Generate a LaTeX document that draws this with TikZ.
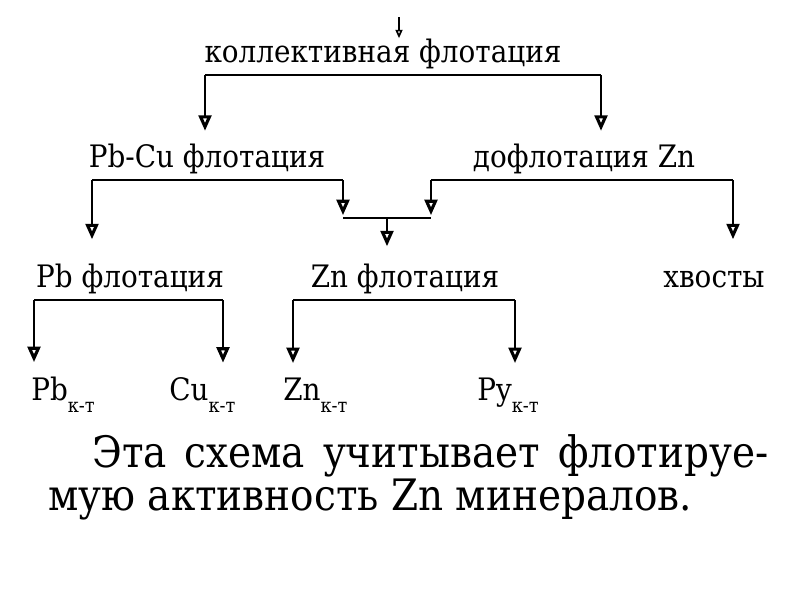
\documentclass[tikz,border=0pt]{standalone}
\usepackage{fontspec}
\setmainfont{DejaVu Serif}[FakeStretch=0.9]
\usetikzlibrary{arrows.meta}

\newcommand{\ktsub}{\raisebox{-9pt}{\fontsize{14}{14}\selectfont к-т}}

\begin{document}
\begin{tikzpicture}[x=0.025cm,y=-0.025cm,
    lbl/.style={inner sep=0pt,anchor=base,font=\fontsize{22}{26}\selectfont},
    prod/.style={lbl,anchor=base west},
    txt/.style={inner sep=0pt,anchor=base west,font=\fontsize{30.8}{36}\selectfont},
    line/.style={line width=1.6pt},
    flow/.style={line,-{Triangle[open,length=11pt,width=9pt,line width=2.2pt]}}]
  \useasboundingbox (0,0) rectangle (800,600);
  % Labels
  \node[lbl] (coll) at (383,62) {коллективная флотация};
  \node[lbl] (pbcu) at (207,167) {Pb-Cu флотация};
  \node[lbl] (dofl) at (584,167) {дофлотация Zn};
  \node[lbl] (pbfl) at (130,287) {Pb флотация};
  \node[lbl] (znfl) at (405,287) {Zn флотация};
  \node[lbl] (tails) at (714,287) {хвосты};
  \node[prod] (pbk) at (31,400) {Pb\ktsub};
  \node[prod] (cuk) at (169,400) {Cu\ktsub};
  \node[prod] (znk) at (283,400) {Zn\ktsub};
  \node[prod] (pyk) at (477,400) {Py\ktsub};
  % Forks
  \coordinate (feed) at (399,17);
  \coordinate (k1) at (205,75);  \coordinate (k2) at (601,75);
  \coordinate (p1) at (92,180);  \coordinate (p2) at (343,180);
  \coordinate (d1) at (431,180); \coordinate (d2) at (733,180);
  \coordinate (m1) at (343,218); \coordinate (m2) at (431,218);
  \coordinate (m0) at (387,218);
  \coordinate (b1) at (34,300);  \coordinate (b2) at (223,300);
  \coordinate (z1) at (293,300); \coordinate (z2) at (515,300);
  % Arrows
  \draw[line width=0.8pt,-{Triangle[open,length=6pt,width=5pt,line width=1.2pt]}] (feed) -- (feed |- coll.north);
  \draw[line] (k1) -- (k2);
  \draw[flow,shorten >=8.8pt] (k1) -- (k1 |- pbcu.north);
  \draw[flow,shorten >=8.8pt] (k2) -- (k2 |- dofl.north);
  \draw[line] (p1) -- (p2);
  \draw[flow,shorten >=17pt] (p1) -- (p1 |- pbfl.north);
  \draw[flow,shorten >=2pt] (p2) -- (m1);
  \draw[line] (d1) -- (d2);
  \draw[flow,shorten >=2pt] (d1) -- (m2);
  \draw[flow,shorten >=22pt] (d2) -- (d2 |- tails.north);
  \draw[line] (m1) -- (m2);
  \draw[flow,shorten >=12pt] (m0) -- (m0 |- znfl.north);
  \draw[line] (b1) -- (b2);
  \draw[flow,shorten >=10pt] (b1) -- (b1 |- pbk.north);
  \draw[flow,shorten >=10pt] (b2) -- (b2 |- cuk.north);
  \draw[line] (z1) -- (z2);
  \draw[flow,shorten >=10pt] (z1) -- (z1 |- znk.north);
  \draw[flow,shorten >=10pt] (z2) -- (z2 |- pyk.north);
  % Caption
  \node[txt] (cap1) at (92,467) {\makebox[16.9cm][s]{Эта схема учитывает флотируе-}};
  \node[txt] (cap2) at (48,510) {мую активность Zn минералов.};
\end{tikzpicture}
\end{document}
